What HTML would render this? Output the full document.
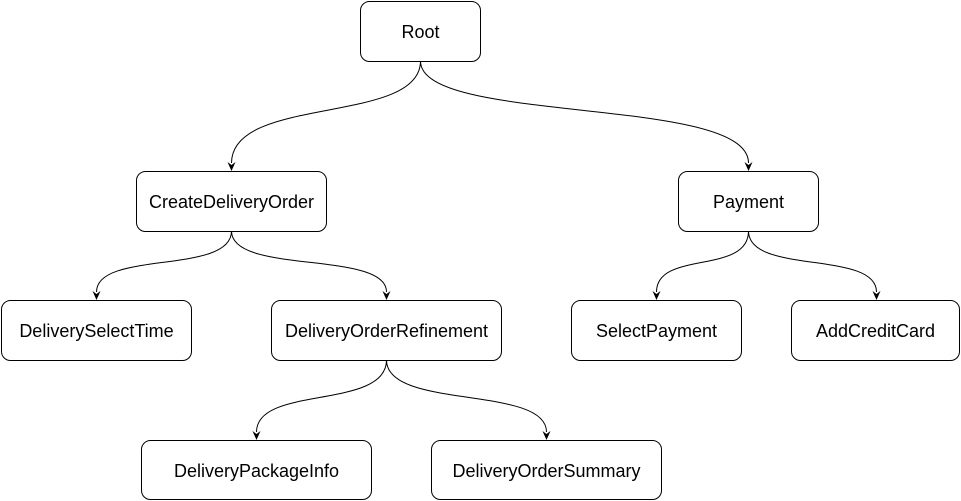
<!DOCTYPE html>
<html><head><meta charset="utf-8"><style>
html,body{margin:0;padding:0;background:#fff;width:961px;height:501px;overflow:hidden}
svg{display:block}
text{font-family:"Liberation Sans",Helvetica,Arial,sans-serif;font-size:18px;fill:#000}
</style></head><body>
<svg width="961" height="501" viewBox="0 0 961 501" xmlns="http://www.w3.org/2000/svg">
<g fill="none" stroke="#000" stroke-width="1">
<path d="M420.5,61 C420.5,125 231.5,95 231.5,163"/>
<path d="M420.5,61 C420.5,125 748.5,95 748.5,163"/>
<path d="M231.5,231 C231.5,275 96.5,250 96.5,292"/>
<path d="M231.5,231 C231.5,275 386.5,250 386.5,292"/>
<path d="M748.5,231 C748.5,275 656.5,250 656.5,292"/>
<path d="M748.5,231 C748.5,275 876.5,250 876.5,292"/>
<path d="M386.5,360 C386.5,410 256.5,385 256.5,432"/>
<path d="M386.5,360 C386.5,410 546.5,385 546.5,432"/>
</g>
<g fill="#000">
<path d="M231.5,171 l-4,-9 l4,3 l4,-3 z"/>
<path d="M748.5,171 l-4,-9 l4,3 l4,-3 z"/>
<path d="M96.5,300 l-4,-9 l4,3 l4,-3 z"/>
<path d="M386.5,300 l-4,-9 l4,3 l4,-3 z"/>
<path d="M656.5,300 l-4,-9 l4,3 l4,-3 z"/>
<path d="M876.5,300 l-4,-9 l4,3 l4,-3 z"/>
<path d="M256.5,440 l-4,-9 l4,3 l4,-3 z"/>
<path d="M546.5,440 l-4,-9 l4,3 l4,-3 z"/>
</g>
<g fill="#fff" stroke="#000" stroke-width="1">
<rect x="360.5" y="1.5" width="120" height="60" rx="9"/>
<rect x="136.5" y="171.5" width="190" height="60" rx="9"/>
<rect x="678.5" y="171.5" width="140" height="60" rx="9"/>
<rect x="1.5" y="300.5" width="190" height="60" rx="9"/>
<rect x="271.5" y="300.5" width="230" height="60" rx="9"/>
<rect x="571.5" y="300.5" width="170" height="60" rx="9"/>
<rect x="791.5" y="300.5" width="168" height="60" rx="9"/>
<rect x="141.5" y="440.5" width="230" height="59" rx="9"/>
<rect x="431.5" y="440.5" width="230" height="59" rx="9"/>
</g>
<g text-anchor="middle">
<text x="420.5" y="38">Root</text>
<text x="231.5" y="208">CreateDeliveryOrder</text>
<text x="748.5" y="208">Payment</text>
<text x="96.5" y="337">DeliverySelectTime</text>
<text x="386.5" y="337">DeliveryOrderRefinement</text>
<text x="656.5" y="337">SelectPayment</text>
<text x="875.5" y="337">AddCreditCard</text>
<text x="256.5" y="477">DeliveryPackageInfo</text>
<text x="546.5" y="477">DeliveryOrderSummary</text>
</g>
</svg>
</body></html>
